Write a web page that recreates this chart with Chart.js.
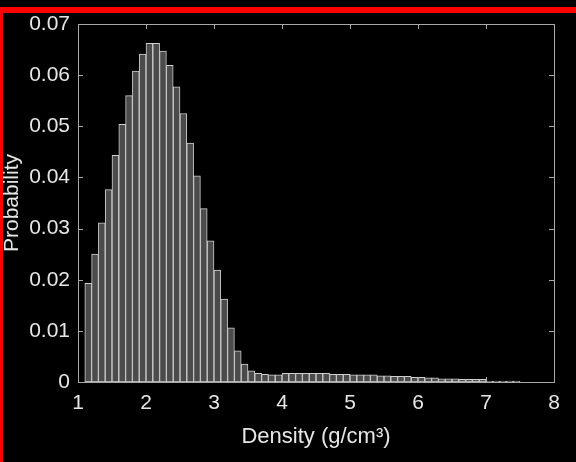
<!DOCTYPE html>
<html>
<head>
<meta charset="utf-8">
<script src="https://cdn.jsdelivr.net/npm/chart.js@4.4.1/dist/chart.umd.min.js"></script>
<style>
    html, body { margin: 0; padding: 0; background: #000; }
    #wrap { position: relative; width: 576px; height: 462px; overflow: hidden; background: #000; }
    #redTop { position: absolute; left: 0; top: 7px; width: 576px; height: 6px; background: #ff0000; }
    #redLeft { position: absolute; left: 0; top: 7px; width: 3px; height: 455px; background: #ff0000; }
    canvas { position: absolute; left: 0; top: 0; }
</style>
</head>
<body>
<div id="wrap">
    <canvas id="histograma" width="576" height="462"></canvas>
    <div id="redTop"></div>
    <div id="redLeft"></div>
</div>
<script>
// centros de los intervalos (ancho 0.1 g/cm3)
const centros = [
    1.15, 1.25, 1.35, 1.45, 1.55, 1.65, 1.75, 1.85, 1.95, 2.05,
    2.15, 2.25, 2.35, 2.45, 2.55, 2.65, 2.75, 2.85, 2.95, 3.05,
    3.15, 3.25, 3.35, 3.45, 3.55, 3.65, 3.75, 3.85, 3.95, 4.05,
    4.15, 4.25, 4.35, 4.45, 4.55, 4.65, 4.75, 4.85, 4.95, 5.05,
    5.15, 5.25, 5.35, 5.45, 5.55, 5.65, 5.75, 5.85, 5.95, 6.05,
    6.15, 6.25, 6.35, 6.45, 6.55, 6.65, 6.75, 6.85, 6.95, 7.05,
    7.15, 7.25, 7.35, 7.45
];

const probabilidad = [
    0.0193, 0.0250, 0.0311, 0.0376, 0.0443, 0.0504, 0.0560, 0.0608, 0.0641, 0.0662,
    0.0662, 0.0647, 0.0619, 0.0577, 0.0525, 0.0467, 0.0403, 0.0339, 0.0276, 0.0219,
    0.0162, 0.0106, 0.0061, 0.0035, 0.0022, 0.0017, 0.0015, 0.0014, 0.0014, 0.0017,
    0.0017, 0.0017, 0.0017, 0.0017, 0.0017, 0.0017, 0.0015, 0.0015, 0.0015, 0.0014,
    0.0014, 0.0014, 0.0014, 0.0012, 0.0012, 0.0011, 0.0011, 0.0011, 0.0009, 0.0009,
    0.0008, 0.0008, 0.0006, 0.0006, 0.0006, 0.0005, 0.0005, 0.0005, 0.0005, 0.0002,
    0.0002, 0.0002, 0.0002, 0.0002
];

const ticksX = [1, 2, 3, 4, 5, 6, 7, 8];
const ticksY = [0, 0.01, 0.02, 0.03, 0.04, 0.05, 0.06, 0.07];

const fuente = "'Liberation Sans', Arial, Helvetica, sans-serif";

// caja y marcas hacia dentro, estilo MATLAB
const cajaEjes = {
    id: 'cajaEjes',
    afterDraw(chart) {
        const { ctx, chartArea: a, scales: { x, y } } = chart;
        const largo = 5;
        ctx.save();
        ctx.strokeStyle = '#a8a8a8';
        ctx.lineWidth = 1;
        ctx.strokeRect(a.left + 0.5, a.top + 0.5, a.right - a.left, a.bottom - a.top);
        ctx.beginPath();
        ticksX.forEach((v) => {
            const px = Math.round(x.getPixelForValue(v)) + 0.5;
            ctx.moveTo(px, a.bottom);
            ctx.lineTo(px, a.bottom - largo);
            ctx.moveTo(px, a.top);
            ctx.lineTo(px, a.top + largo);
        });
        ticksY.forEach((v) => {
            const py = Math.round(y.getPixelForValue(v)) + 0.5;
            ctx.moveTo(a.left, py);
            ctx.lineTo(a.left + largo, py);
            ctx.moveTo(a.right, py);
            ctx.lineTo(a.right - largo, py);
        });
        ctx.stroke();
        ctx.restore();
    }
};

const ctx = document.getElementById('histograma').getContext('2d');

new Chart(ctx, {
    type: 'bar',
    data: {
        datasets: [{
            label: 'Probabilidad',
            data: centros.map((c, i) => ({ x: c, y: probabilidad[i] })),
            backgroundColor: '#4b4b4b',
            borderColor: '#cfcfcf',
            borderWidth: 1,
            borderSkipped: false,
            barPercentage: 1,
            categoryPercentage: 1
        }]
    },
    options: {
        responsive: false,
        animation: false,
        devicePixelRatio: 1,
        layout: { padding: { left: 0, right: 22, top: 24, bottom: 0 } },
        plugins: { legend: { display: false }, tooltip: { enabled: false } },
        scales: {
            x: {
                type: 'linear',
                offset: false,
                min: 1,
                max: 8,
                afterFit: (s) => { s.height = 80; },
                afterBuildTicks: (s) => { s.ticks = ticksX.map((v) => ({ value: v })); },
                grid: { display: false, drawTicks: false, offset: false },
                border: { display: false },
                ticks: {
                    color: '#e6e6e6',
                    padding: 9,
                    font: { family: fuente, size: 21 },
                    callback: (v) => String(v)
                },
                title: {
                    display: true,
                    text: 'Density (g/cm³)',
                    color: '#e6e6e6',
                    font: { family: fuente, size: 22 },
                    padding: { top: 0, bottom: 12 }
                }
            },
            y: {
                min: 0,
                max: 0.07,
                afterFit: (s) => { s.width = 78; },
                afterBuildTicks: (s) => { s.ticks = ticksY.map((v) => ({ value: v })); },
                grid: { display: false, drawTicks: false },
                border: { display: false },
                ticks: {
                    color: '#e6e6e6',
                    padding: 8,
                    font: { family: fuente, size: 21 },
                    callback: (v) => (v === 0 ? '0' : v.toFixed(2))
                },
                title: {
                    display: true,
                    text: 'Probability',
                    color: '#e6e6e6',
                    font: { family: fuente, size: 21 },
                    padding: { top: 0, bottom: 0 }
                }
            }
        }
    },
    plugins: [cajaEjes]
});
</script>
</body>
</html>
